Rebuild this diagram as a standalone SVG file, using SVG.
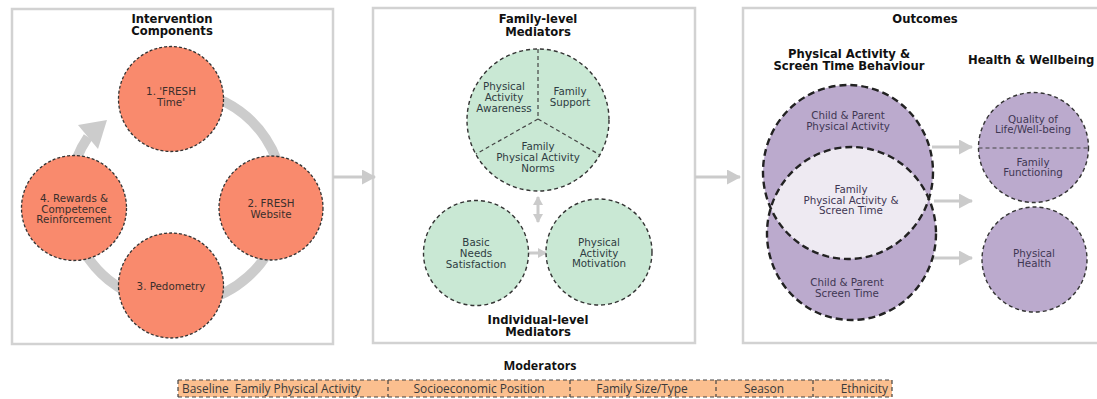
<svg xmlns="http://www.w3.org/2000/svg" width="1097" height="399" viewBox="0 0 1097 399">
<style>
.panel{fill:#fff;stroke:#d2d2d2;stroke-width:2.5}
.hdr{font-family:"DejaVu Sans",sans-serif;font-weight:bold;font-size:11.6px;fill:#111;text-anchor:middle}
.t{font-family:"DejaVu Sans",sans-serif;font-size:10.3px;text-anchor:middle}
.t1{fill:#3a2f2c}
.t2{fill:#2f3c42}
.t3{fill:#3f3753}
.c1{fill:#f98a6d;stroke:#333;stroke-width:1.3;stroke-dasharray:3 2}
.c2{fill:#c9e8d4;stroke:#333;stroke-width:1.4;stroke-dasharray:4 3}
.c3{fill:#bbaacd;stroke:#333;stroke-width:1.4;stroke-dasharray:4 3}
.big{fill:none;stroke:#222;stroke-width:2.4;stroke-dasharray:7 4}
.div{stroke:#444;stroke-width:1.2;stroke-dasharray:4 3;fill:none}
.conn{stroke:#cbcbcb;stroke-width:3;fill:none}
.mod{font-family:"Open Sans",sans-serif;font-size:11.9px;fill:#3a3a3a;white-space:pre}
</style>
<defs>
<marker id="ah" markerWidth="14" markerHeight="15" refX="13" refY="7.5" orient="auto" markerUnits="userSpaceOnUse">
<path d="M0,0 L14,7.5 L0,15 Z" fill="#cbcbcb"/>
</marker>
<marker id="ahs" markerWidth="9" markerHeight="10" refX="8" refY="5" orient="auto-start-reverse" markerUnits="userSpaceOnUse">
<path d="M0,0 L9,5 L0,10 Z" fill="#cbcbcb"/>
</marker>
<clipPath id="lensclip"><ellipse cx="851.5" cy="233.5" rx="84.5" ry="86.5"/></clipPath>
</defs>
<rect width="1097" height="399" fill="#fff"/>

<g id="panel-intervention">
<rect class="panel" x="12" y="9" width="321" height="335"/>
<text class="hdr" x="172" y="23">Intervention</text>
<text class="hdr" x="172" y="35">Components</text>
</g>
<g id="panel-mediators">
<rect class="panel" x="373" y="8" width="322" height="335"/>
<text class="hdr" x="538" y="22.5">Family-level</text>
<text class="hdr" x="538" y="35.5">Mediators</text>
<text class="hdr" x="538" y="324">Individual-level</text>
<text class="hdr" x="538" y="336">Mediators</text>
</g>
<g id="panel-outcomes">
<rect class="panel" x="743" y="8" width="370" height="335"/>
<text class="hdr" x="925" y="22.5">Outcomes</text>
<text class="hdr" x="849" y="58">Physical Activity &amp;</text>
<text class="hdr" x="849" y="70">Screen Time Behaviour</text>
<text class="hdr" x="968" y="64" style="text-anchor:start">Health &amp; Wellbeing</text>
</g>

<g id="connectors">
<path d="M125.8,103 A107,107 0 1 1 88,137" stroke="#cccccc" stroke-width="10" fill="none"/>
<polygon points="78,125 107,120 98,149" fill="#cccccc"/>
<line class="conn" x1="333" y1="177" x2="375" y2="177" marker-end="url(#ah)"/>
<line class="conn" x1="695" y1="177" x2="740" y2="177" marker-end="url(#ah)"/>
<line class="conn" x1="538" y1="197" x2="538" y2="222" marker-start="url(#ahs)" marker-end="url(#ahs)"/>
<line class="conn" x1="528" y1="253" x2="546" y2="253" marker-end="url(#ahs)"/>
<line class="conn" x1="932" y1="147" x2="972" y2="147" marker-end="url(#ah)"/>
<line class="conn" x1="934" y1="201" x2="972" y2="201" marker-end="url(#ah)"/>
<line class="conn" x1="932" y1="258" x2="972" y2="258" marker-end="url(#ah)"/>
</g>

<g id="node-fresh-time">
<circle class="c1" cx="171" cy="99" r="52.5"/>
<text class="t t1" x="171" y="95">1. 'FRESH</text>
<text class="t t1" x="171" y="106">Time'</text>
</g>
<g id="node-fresh-website">
<circle class="c1" cx="271" cy="208" r="52"/>
<text class="t t1" x="271" y="207">2. FRESH</text>
<text class="t t1" x="271" y="218">Website</text>
</g>
<g id="node-pedometry">
<circle class="c1" cx="171" cy="285.5" r="52.5"/>
<text class="t t1" x="171" y="290">3. Pedometry</text>
</g>
<g id="node-rewards">
<circle class="c1" cx="74" cy="208" r="52.5"/>
<text class="t t1" x="74" y="202">4. Rewards &amp;</text>
<text class="t t1" x="74" y="212.5">Competence</text>
<text class="t t1" x="74" y="223">Reinforcement</text>
</g>

<g id="node-family-mediators">
<circle class="c2" cx="538" cy="120" r="71"/>
<path class="div" d="M538,49 L538,119 M538,119 L476,154 M538,119 L600,155"/>
<text class="t t2" x="504" y="90">Physical</text>
<text class="t t2" x="504" y="101">Activity</text>
<text class="t t2" x="504" y="112">Awareness</text>
<text class="t t2" x="570" y="95">Family</text>
<text class="t t2" x="570" y="106">Support</text>
<text class="t t2" x="538" y="150">Family</text>
<text class="t t2" x="538" y="161">Physical Activity</text>
<text class="t t2" x="538" y="172">Norms</text>
</g>
<g id="node-basic-needs">
<circle class="c2" cx="476" cy="253" r="52.5"/>
<text class="t t2" x="476" y="246">Basic</text>
<text class="t t2" x="476" y="257">Needs</text>
<text class="t t2" x="476" y="268">Satisfaction</text>
</g>
<g id="node-pa-motivation">
<circle class="c2" cx="599" cy="252" r="53"/>
<text class="t t2" x="599" y="246">Physical</text>
<text class="t t2" x="599" y="257">Activity</text>
<text class="t t2" x="599" y="267">Motivation</text>
</g>

<g id="node-behaviour">
<ellipse cx="848" cy="172" rx="85" ry="87" fill="#bbaacd"/>
<ellipse cx="851.5" cy="233.5" rx="84.5" ry="86.5" fill="#bbaacd"/>
<ellipse cx="848" cy="172" rx="85" ry="87" fill="#eeeaf2" clip-path="url(#lensclip)"/>
<ellipse class="big" cx="848" cy="172" rx="85" ry="87"/>
<ellipse class="big" cx="851.5" cy="233.5" rx="84.5" ry="86.5"/>
<text class="t t3" x="848" y="119">Child &amp; Parent</text>
<text class="t t3" x="848" y="130">Physical Activity</text>
<text class="t t3" x="851" y="193">Family</text>
<text class="t t3" x="851" y="204">Physical Activity &amp;</text>
<text class="t t3" x="851" y="214">Screen Time</text>
<text class="t t3" x="847" y="286">Child &amp; Parent</text>
<text class="t t3" x="847" y="297">Screen Time</text>
</g>
<g id="node-wellbeing">
<circle class="c3" cx="1033.5" cy="147.5" r="55"/>
<line class="div" x1="978.5" y1="148" x2="1088.5" y2="148"/>
<text class="t t3" x="1033" y="123">Quality of</text>
<text class="t t3" x="1033" y="133">Life/Well-being</text>
<text class="t t3" x="1033" y="166">Family</text>
<text class="t t3" x="1033" y="176">Functioning</text>
</g>
<g id="node-physical-health">
<circle class="c3" cx="1034.5" cy="259.5" r="52.5"/>
<text class="t t3" x="1034" y="257">Physical</text>
<text class="t t3" x="1034" y="267">Health</text>
</g>

<g id="moderators">
<text x="540" y="370" style="font-family:'Open Sans',sans-serif;font-weight:bold;font-size:12.5px;fill:#111;text-anchor:middle">Moderators</text>
<rect x="178" y="380" width="714" height="17" fill="#fbbf8f"/>
<path class="div" d="M178,380 H892 M178,397 H892 M178,380 V397 M892,380 V397 M388,380 V397 M570,380 V397 M716,380 V397 M813,380 V397"/>
<text class="mod" x="182" y="392.5" xml:space="preserve">Baseline  Family Physical Activity</text>
<text class="mod" x="479" y="392.5" text-anchor="middle">Socioeconomic Position</text>
<text class="mod" x="642" y="392.5" text-anchor="middle">Family Size/Type</text>
<text class="mod" x="764" y="392.5" text-anchor="middle">Season</text>
<text class="mod" x="888" y="392.5" text-anchor="end">Ethnicity</text>
</g>
</svg>
